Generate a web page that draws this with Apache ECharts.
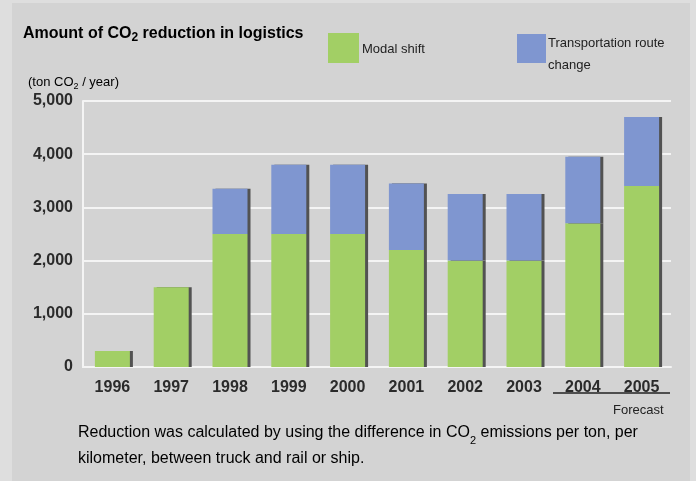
<!DOCTYPE html>
<html>
<head>
<meta charset="utf-8">
<script src="https://cdn.jsdelivr.net/npm/echarts@6/dist/echarts.min.js"></script>
<style>
  html, body { margin: 0; padding: 0; background: #dedede; }
  #wrap { position: relative; width: 696px; height: 481px; background: #dedede; }
  #panel { position: absolute; left: 12px; top: 3px; width: 678px; height: 478px; background: #d3d3d3; }
  #chart { position: absolute; left: 0; top: 0; width: 696px; height: 481px; }
</style>
</head>
<body>
<div id="wrap">
  <div id="panel"></div>
  <div id="chart"></div>
</div>
<script>
// Annual CO2 reduction in logistics (ton CO2 / year)
const years = ['1996', '1997', '1998', '1999', '2000', '2001', '2002', '2003', '2004', '2005'];
const modalShift = [300, 1500, 2500, 2500, 2500, 2200, 2000, 2000, 2700, 3400];
const routeChange = [0, 0, 850, 1300, 1300, 1250, 1250, 1250, 1250, 1300];
const yTicks = [0, 1000, 2000, 3000, 4000, 5000];

const FONT = '"Liberation Sans", Arial, sans-serif';
const chart = echarts.init(document.getElementById('chart'));

const subRich = (size, color, bold) => ({
  n: { fontSize: size, fontFamily: FONT, fontWeight: bold ? 'bold' : 'normal', color: color, lineHeight: size + 4 },
  s: { fontSize: size - 4, fontFamily: FONT, fontWeight: bold ? 'bold' : 'normal', color: color, verticalAlign: 'bottom', lineHeight: size + 4 }
});

const option = {
  backgroundColor: 'transparent',
  animation: false,
  grid: { left: 83, right: 25, top: 101, bottom: 114 },
  xAxis: {
    type: 'category',
    data: years,
    axisLine: { show: true, lineStyle: { color: '#f4f4f4', width: 2 } },
    axisTick: { show: false },
    axisLabel: { color: '#2b2b2b', fontWeight: 'bold', fontSize: 16, fontFamily: FONT, margin: 13 }
  },
  yAxis: {
    type: 'value',
    min: yTicks[0],
    max: yTicks[yTicks.length - 1],
    interval: 1000,
    axisLine: { show: true, lineStyle: { color: '#f4f4f4', width: 2 } },
    axisTick: { show: false },
    splitLine: { show: true, lineStyle: { color: '#f4f4f4', width: 2 } },
    axisLabel: {
      color: '#2b2b2b', fontWeight: 'bold', fontSize: 16, fontFamily: FONT, margin: 10,
      padding: [5, 0, 0, 0],
      formatter: v => v.toLocaleString('en-US')
    }
  },
  series: [
    {
      name: 'Modal shift',
      type: 'bar',
      stack: 'total',
      barWidth: 35,
      data: modalShift,
      itemStyle: { color: '#a2cf65', shadowColor: '#525252', shadowOffsetX: 3, shadowBlur: 0 }
    },
    {
      name: 'Transportation route change',
      type: 'bar',
      stack: 'total',
      barWidth: 35,
      data: routeChange,
      itemStyle: { color: '#7f96d0', shadowColor: '#525252', shadowOffsetX: 3, shadowBlur: 0 }
    }
  ],
  graphic: [
    // title
    { type: 'text', left: 23, top: 26, style: {
      text: '{n|Amount of CO}{s|2}{n| reduction in logistics}', rich: subRich(16, '#111', true) } },
    // unit
    { type: 'text', left: 28, top: 76, style: {
      text: '{n|(ton CO}{s|2}{n| / year)}', rich: subRich(13, '#222', false) } },
    // legend
    { type: 'rect', shape: { x: 328, y: 33, width: 31, height: 30 }, style: { fill: '#a2cf65' } },
    { type: 'text', left: 362, top: 43, style: { text: 'Modal shift', fontSize: 13, fontFamily: FONT, fill: '#222' } },
    { type: 'rect', shape: { x: 517, y: 34, width: 29, height: 29 }, style: { fill: '#7f96d0' } },
    { type: 'text', left: 548, top: 32, style: { text: 'Transportation route\nchange', fontSize: 13, lineHeight: 22, fontFamily: FONT, fill: '#222' } },
    // forecast bracket
    { type: 'line', shape: { x1: 553, y1: 393, x2: 670, y2: 393 }, style: { stroke: '#222', lineWidth: 1.5 } },
    { type: 'text', left: 613, top: 404, style: { text: 'Forecast', fontSize: 13, fontFamily: FONT, fill: '#222' } },
    // footnote
    { type: 'text', left: 78, top: 425, style: {
      text: '{n|Reduction was calculated by using the difference in CO}{s|2}{n| emissions per ton, per}\n{n|kilometer, between truck and rail or ship.}',
      rich: {
        n: { fontSize: 16, fontFamily: FONT, color: '#1e1e1e', lineHeight: 26 },
        s: { fontSize: 11, fontFamily: FONT, color: '#1e1e1e', verticalAlign: 'bottom', lineHeight: 23 }
      } } }
  ]
};

chart.setOption(option);
</script>
</body>
</html>
